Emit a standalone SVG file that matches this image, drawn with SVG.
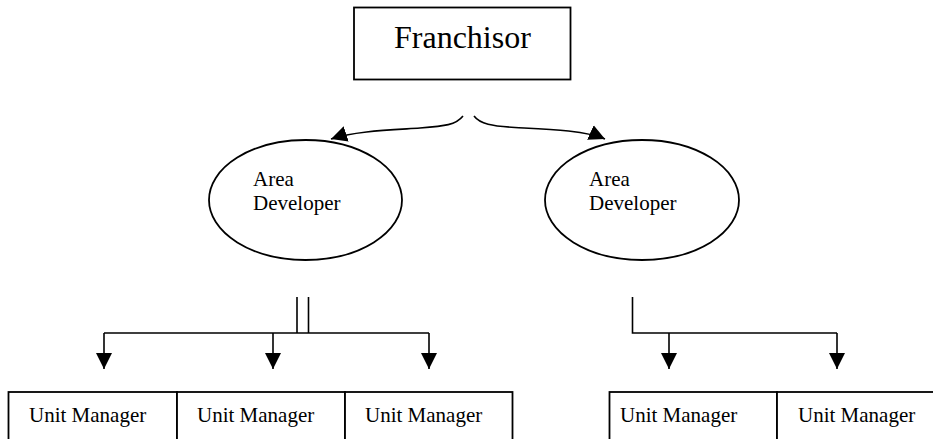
<svg xmlns="http://www.w3.org/2000/svg" width="933" height="439" viewBox="0 0 933 439">
<defs>
<style>
.s{fill:none;stroke:#000;stroke-width:1.6}
.b{fill:#fff;stroke:#000;stroke-width:1.8}
.t{font-family:"Liberation Serif","Times New Roman",serif;fill:#000}
.big{font-size:32px}
.sm{font-size:21px}
</style>
<marker id="ah" viewBox="0 0 16 16" refX="16" refY="8" markerWidth="16" markerHeight="16" markerUnits="userSpaceOnUse" orient="auto">
<path d="M0,0 L16,8 L0,16 Z" fill="#000"/>
</marker>
</defs>
<rect width="933" height="439" fill="#fff"/>
<g id="connectors">
<path class="s" d="M463,116 C456,125 445,126 420,128 C390,130 355,131 331,139" marker-end="url(#ah)"/>
<path class="s" d="M474,116 C480,124 492,126 515,127.5 C545,129 585,130 605,139" marker-end="url(#ah)"/>
<path class="s" d="M297,297 V333 M308.5,297 V333 M104,333 H429"/>
<path class="s" d="M104,333 V369" marker-end="url(#ah)"/>
<path class="s" d="M273,333 V369" marker-end="url(#ah)"/>
<path class="s" d="M429,333 V369" marker-end="url(#ah)"/>
<path class="s" d="M632.5,297 V333 H837"/>
<path class="s" d="M669,333 V369" marker-end="url(#ah)"/>
<path class="s" d="M837,333 V369" marker-end="url(#ah)"/>
</g>
<g id="franchisor">
<rect class="b" x="354" y="7.5" width="216.5" height="72"/>
<text class="t big" x="394" y="48">Franchisor</text>
</g>
<g id="area-developer-1">
<ellipse class="b" cx="305.5" cy="200" rx="96.5" ry="60"/>
<text class="t sm" x="253" y="186">Area</text>
<text class="t sm" x="253" y="210">Developer</text>
</g>
<g id="area-developer-2">
<ellipse class="b" cx="642" cy="200" rx="97" ry="60"/>
<text class="t sm" x="589" y="186">Area</text>
<text class="t sm" x="589" y="210">Developer</text>
</g>
<g id="unit-manager-1">
<rect class="b" x="8.5" y="392" width="168.5" height="60"/>
<text class="t sm" x="29" y="422">Unit Manager</text>
</g>
<g id="unit-manager-2">
<rect class="b" x="177" y="392" width="168" height="60"/>
<text class="t sm" x="197" y="422">Unit Manager</text>
</g>
<g id="unit-manager-3">
<rect class="b" x="345" y="392" width="167.5" height="60"/>
<text class="t sm" x="365" y="422">Unit Manager</text>
</g>
<g id="unit-manager-4">
<rect class="b" x="609.5" y="392" width="167.5" height="60"/>
<text class="t sm" x="620" y="422">Unit Manager</text>
</g>
<g id="unit-manager-5">
<rect class="b" x="777" y="392" width="170" height="60"/>
<text class="t sm" x="798" y="422">Unit Manager</text>
</g>
</svg>
